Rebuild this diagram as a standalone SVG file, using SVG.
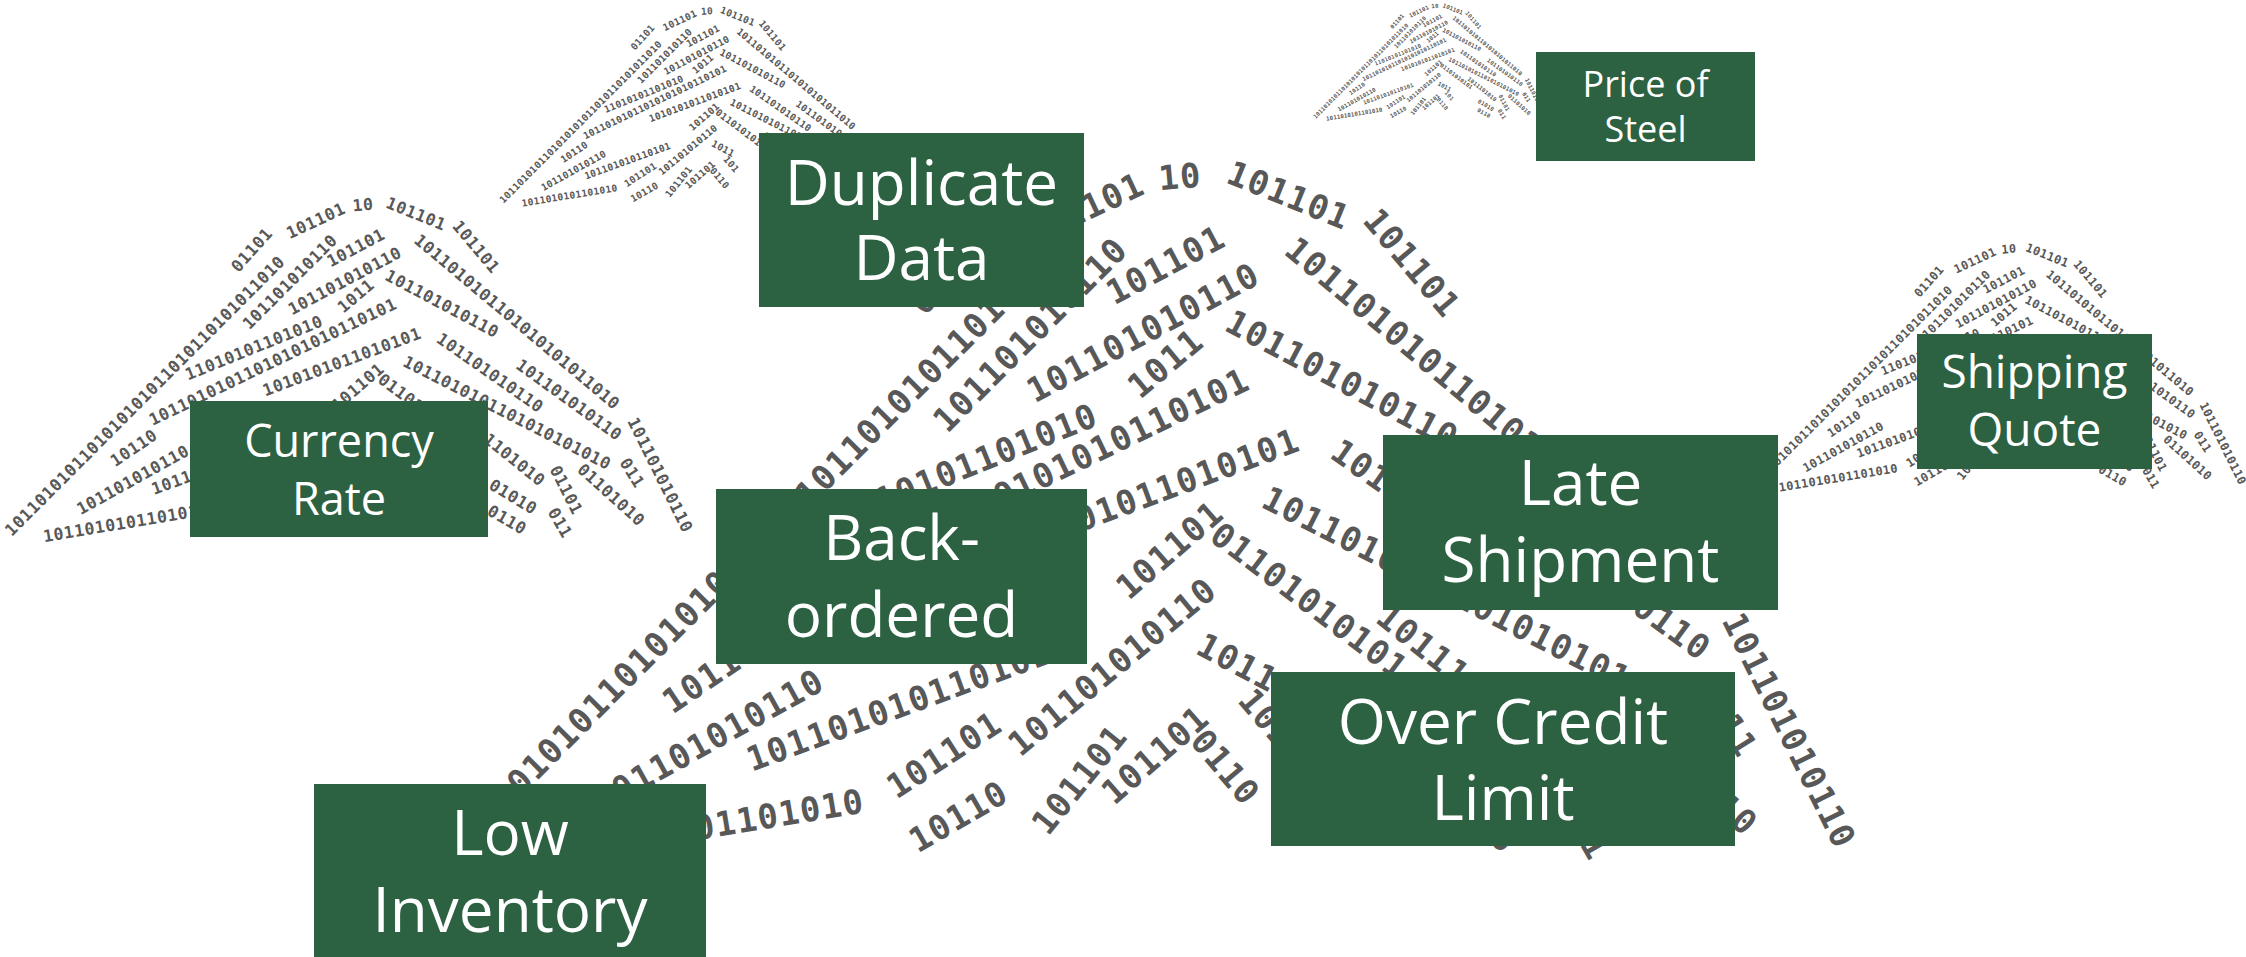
<svg xmlns="http://www.w3.org/2000/svg" width="2246" height="957" viewBox="0 0 2246 957">
<style>
.b{font-family:"DejaVu Sans Mono","Liberation Mono",monospace;font-size:16.5px;letter-spacing:0.55px;font-weight:bold;fill:#585858;text-anchor:middle;dominant-baseline:central}
.box{fill:#2c6142}
.lbl{font-family:"Open Sans","Noto Sans",sans-serif;fill:#ffffff;text-anchor:middle}
</style>
<defs>
<g id="mtn">
<text class="b" x="252" y="250" transform="rotate(-48 252 250)">01101</text>
<text class="b" x="316" y="221" transform="rotate(-25 316 221)">101101</text>
<text class="b" x="363" y="205" transform="rotate(-5 363 205)">10</text>
<text class="b" x="416" y="214" transform="rotate(22 416 214)">101101</text>
<text class="b" x="476" y="247" transform="rotate(50 476 247)">101101</text>
<text class="b" x="145" y="396" transform="rotate(-45 145 396)">1011010101101010101011010110101011010</text>
<text class="b" x="290" y="282" transform="rotate(-45 290 282)">101101010110</text>
<text class="b" x="356" y="248" transform="rotate(-28 356 248)">101101</text>
<text class="b" x="345" y="281" transform="rotate(-28 345 281)">101101010110</text>
<text class="b" x="356" y="296" transform="rotate(-40 356 296)">1011</text>
<text class="b" x="254" y="348" transform="rotate(-22 254 348)">11010101101010</text>
<text class="b" x="273" y="362" transform="rotate(-25.7 273 362)">10110101011010101010110101</text>
<text class="b" x="134" y="448" transform="rotate(-34 134 448)">10110</text>
<text class="b" x="133" y="480" transform="rotate(-29 133 480)">101101010110</text>
<text class="b" x="126" y="523" transform="rotate(-9.4 126 523)">1011010101101010</text>
<text class="b" x="342" y="362" transform="rotate(-20.4 342 362)">1010101011010101</text>
<text class="b" x="358" y="387" transform="rotate(-41 358 387)">101101</text>
<text class="b" x="330" y="444" transform="rotate(-39.5 330 444)">101101010110</text>
<text class="b" x="248" y="487" transform="rotate(-33 248 487)">101101</text>
<text class="b" x="226" y="463" transform="rotate(-20 226 463)">101101010110101</text>
<text class="b" x="255" y="517" transform="rotate(-30 255 517)">10110</text>
<text class="b" x="314" y="499" transform="rotate(-51 314 499)">101101</text>
<text class="b" x="351" y="487" transform="rotate(-41 351 487)">101101</text>
<text class="b" x="385" y="493" transform="rotate(50 385 493)">0110</text>
<text class="b" x="426" y="412" transform="rotate(37 426 412)">01101010101</text>
<text class="b" x="391" y="442" transform="rotate(28 391 442)">1011</text>
<text class="b" x="405" y="469" transform="rotate(50 405 469)">101</text>
<text class="b" x="517" y="322" transform="rotate(40 517 322)">1011010101101010101011010</text>
<text class="b" x="442" y="304" transform="rotate(28 442 304)">101101010110</text>
<text class="b" x="490" y="373" transform="rotate(35 490 373)">101101010110</text>
<text class="b" x="569" y="400" transform="rotate(36 569 400)">101101010110</text>
<text class="b" x="507" y="413" transform="rotate(27 507 413)">1011010101101010101010</text>
<text class="b" x="660" y="475" transform="rotate(63.6 660 475)">101101010110</text>
<text class="b" x="632" y="473" transform="rotate(58 632 473)">011</text>
<text class="b" x="611" y="495" transform="rotate(42 611 495)">01101010</text>
<text class="b" x="566" y="490" transform="rotate(63 566 490)">01101</text>
<text class="b" x="560" y="523" transform="rotate(60 560 523)">011</text>
<text class="b" x="502" y="450" transform="rotate(38.7 502 450)">1011101010</text>
<text class="b" x="513" y="497" transform="rotate(31 513 497)">01010</text>
<text class="b" x="507" y="520" transform="rotate(30 507 520)">0110</text>
</g>
</defs>
<rect x="0" y="0" width="2246" height="957" fill="#ffffff"/>
<g id="binary-mountains">
<use href="#mtn" transform="translate(1180 177) scale(2.05) translate(-363 -205)"/>
<use href="#mtn"/>
<use href="#mtn" transform="translate(707 11) scale(0.58) translate(-363 -205)"/>
<use href="#mtn" transform="translate(1435 6) scale(0.34) translate(-363 -205)"/>
<use href="#mtn" transform="translate(2009 249) scale(0.72) translate(-363 -205)"/>
</g>
<g id="connectors"></g>
<g id="duplicate-data">
<rect class="box" x="759" y="133" width="325" height="174"/>
<text class="lbl" x="921.5" y="205" font-size="62">Duplicate</text>
<text class="lbl" x="921.5" y="280" font-size="62">Data</text>
</g>
<g id="currency-rate">
<rect class="box" x="190" y="401" width="298" height="136"/>
<text class="lbl" x="339" y="457" font-size="45">Currency</text>
<text class="lbl" x="339" y="515" font-size="45">Rate</text>
</g>
<g id="back-ordered">
<rect class="box" x="716" y="489" width="371" height="175"/>
<text class="lbl" x="901.5" y="560" font-size="62">Back-</text>
<text class="lbl" x="901.5" y="637" font-size="62">ordered</text>
</g>
<g id="low-inventory">
<rect class="box" x="314" y="784" width="392" height="173"/>
<text class="lbl" x="510" y="855" font-size="62">Low</text>
<text class="lbl" x="510" y="932" font-size="62">Inventory</text>
</g>
<g id="price-of-steel">
<rect class="box" x="1536" y="52" width="219" height="109"/>
<text class="lbl" x="1645.5" y="97" font-size="36">Price of</text>
<text class="lbl" x="1645.5" y="142" font-size="36">Steel</text>
</g>
<g id="shipping-quote">
<rect class="box" x="1917" y="334" width="235" height="135"/>
<text class="lbl" x="2034.5" y="388" font-size="46">Shipping</text>
<text class="lbl" x="2034.5" y="446" font-size="46">Quote</text>
</g>
<g id="late-shipment">
<rect class="box" x="1383" y="435" width="395" height="175"/>
<text class="lbl" x="1580.5" y="505" font-size="62">Late</text>
<text class="lbl" x="1580.5" y="582" font-size="62">Shipment</text>
</g>
<g id="over-credit-limit">
<rect class="box" x="1271" y="672" width="464" height="174"/>
<text class="lbl" x="1503" y="744" font-size="62">Over Credit</text>
<text class="lbl" x="1503" y="820" font-size="62">Limit</text>
</g>
</svg>
